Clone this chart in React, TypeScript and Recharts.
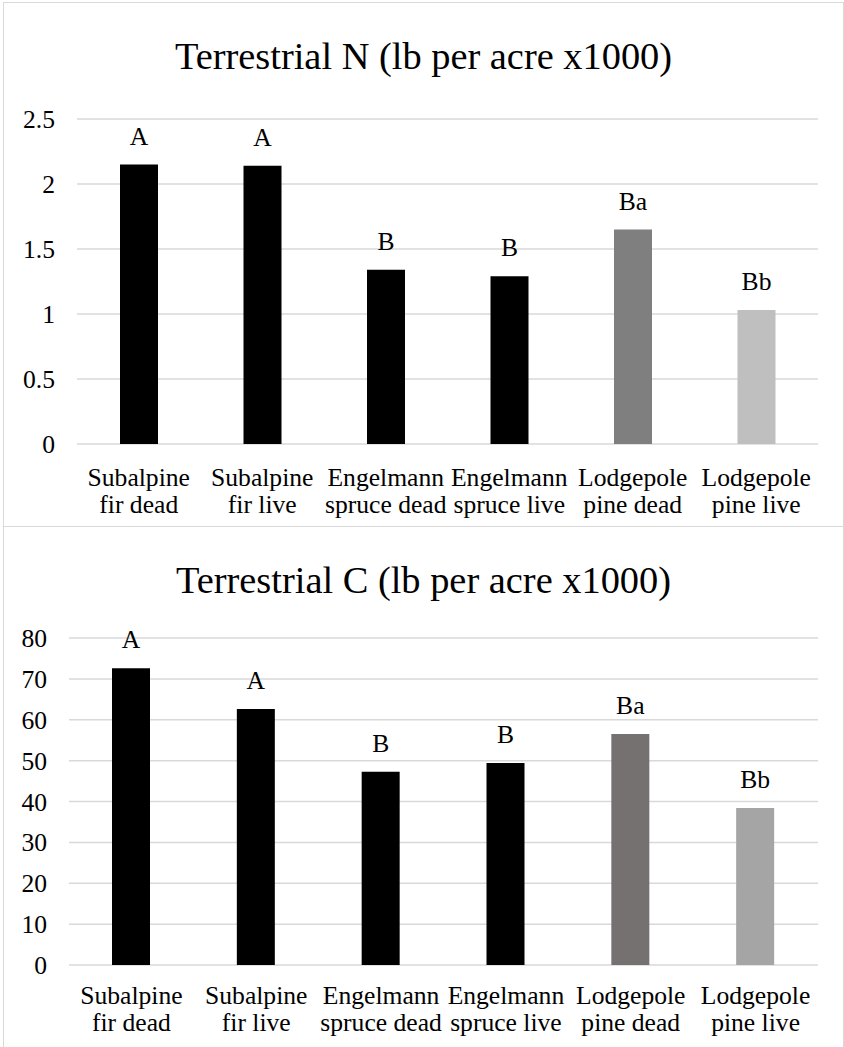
import { BarChart, Bar, XAxis, YAxis, CartesianGrid, LabelList, Cell } from 'recharts'

const FONT = '"Liberation Serif", "Times New Roman", serif'

const categories = [
  'Subalpine fir dead',
  'Subalpine fir live',
  'Engelmann spruce dead',
  'Engelmann spruce live',
  'Lodgepole pine dead',
  'Lodgepole pine live',
]

// Terrestrial N, lb per acre x1000
const nitrogen = [2.15, 2.14, 1.34, 1.29, 1.65, 1.03]
const nitrogenLetters = ['A', 'A', 'B', 'B', 'Ba', 'Bb']
const nitrogenTicks = [0, 0.5, 1, 1.5, 2, 2.5]

// Terrestrial C, lb per acre x1000
const carbon = [72.6, 62.6, 47.3, 49.4, 56.5, 38.4]
const carbonLetters = ['A', 'A', 'B', 'B', 'Ba', 'Bb']
const carbonTicks = [0, 10, 20, 30, 40, 50, 60, 70, 80]

const nitrogenColors = ['#000000', '#000000', '#000000', '#000000', '#7f7f7f', '#bfbfbf']
const carbonColors = ['#000000', '#000000', '#000000', '#000000', '#767171', '#a5a5a5']

function CategoryTick({ x, y, payload, firstDy }: any) {
  const name: string = payload.value
  const i = name.indexOf(' ')
  return (
    <text x={x} y={y} textAnchor="middle" fill="#000" fontSize={25.6} fontFamily={FONT}>
      <tspan x={x} dy={firstDy}>{name.slice(0, i)}</tspan>
      <tspan x={x} dy={27}>{name.slice(i + 1)}</tspan>
    </text>
  )
}

type ChartProps = {
  title: string
  values: number[]
  letters: string[]
  ticks: number[]
  colors: string[]
  top: number
  plotTop: number
  yWidth: number
  xHeight: number
  labelDy: number
}

function TerrestrialChart({ title, values, letters, ticks, colors, top, plotTop, yWidth, xHeight, labelDy }: ChartProps) {
  const data = categories.map((c, i) => ({ category: c, value: values[i], letter: letters[i] }))

  return (
    <div
      style={{
        position: 'absolute',
        left: 3,
        top,
        width: 841,
        height: 525,
        border: '1px solid #d9d9d9',
        boxSizing: 'border-box',
        background: '#fff',
      }}
    >
      <BarChart width={839} height={523} data={data} margin={{ top: plotTop, right: 25, bottom: 0, left: 0 }}>
        <CartesianGrid vertical={false} stroke="#d9d9d9" strokeWidth={1.5} />
        <XAxis
          dataKey="category"
          axisLine={false}
          tickLine={false}
          interval={0}
          height={xHeight}
          tick={(props: any) => <CategoryTick {...props} firstDy={labelDy} />}
        />
        <YAxis
          type="number"
          domain={[0, ticks[ticks.length - 1]]}
          ticks={ticks}
          interval={0}
          axisLine={false}
          tickLine={false}
          tickMargin={16}
          width={yWidth}
          tick={{ fill: '#000', fontSize: 25.6, fontFamily: FONT }}
        />
        <Bar dataKey="value" barSize={38} isAnimationActive={false}>
          {data.map((d, i) => (
            <Cell key={d.category} fill={colors[i]} />
          ))}
          <LabelList dataKey="letter" position="top" offset={20} fill="#000" fontSize={25.6} fontFamily={FONT} />
        </Bar>
      </BarChart>
      <svg width={839} height={100} style={{ position: 'absolute', left: 0, top: 0, pointerEvents: 'none' }}>
        <text x={419.5} y={66} textAnchor="middle" fill="#000" fontSize={38.4} fontFamily={FONT}>
          {title}
        </text>
      </svg>
    </div>
  )
}

export default function App() {
  return (
    <div style={{ position: 'absolute', left: 0, top: 0, width: 844, height: 1047, overflow: 'hidden', background: '#fff' }}>
      <TerrestrialChart
        title="Terrestrial N (lb per acre x1000)"
        values={nitrogen}
        letters={nitrogenLetters}
        ticks={nitrogenTicks}
        colors={nitrogenColors}
        top={2}
        plotTop={116}
        yWidth={73}
        xHeight={82}
        labelDy={34}
      />
      <TerrestrialChart
        title="Terrestrial C (lb per acre x1000)"
        values={carbon}
        letters={carbonLetters}
        ticks={carbonTicks}
        colors={carbonColors}
        top={526}
        plotTop={111}
        yWidth={65}
        xHeight={85}
        labelDy={31}
      />
    </div>
  )
}
